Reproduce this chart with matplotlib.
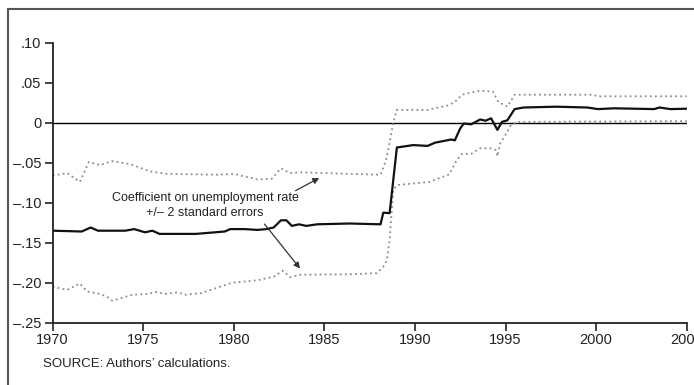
import numpy as np
import matplotlib.pyplot as plt
from matplotlib.lines import Line2D

plt.rcParams['font.family'] = ['Liberation Sans', 'DejaVu Sans']

# coefficient on unemployment rate
coef_yr = [1970.0, 1971.6, 1972.1, 1972.5, 1974.0, 1974.5, 1975.1, 1975.5, 1975.9, 1977.9,
           1979.5, 1979.8, 1980.6, 1981.3, 1981.8, 1982.2, 1982.6, 1982.9, 1983.2, 1983.6,
           1984.0, 1984.6, 1986.4, 1988.1, 1988.25, 1988.6, 1989.0, 1989.9, 1990.7, 1991.1,
           1992.0, 1992.2, 1992.5, 1992.7, 1993.1, 1993.6, 1993.9, 1994.2, 1994.55, 1994.8,
           1995.1, 1995.5, 1996.0, 1997.8, 1999.5, 2000.1, 2001.0, 2003.2, 2003.5, 2004.1, 2005.0]
coef = [-0.135, -0.136, -0.131, -0.135, -0.135, -0.133, -0.137, -0.135, -0.139, -0.139,
        -0.136, -0.133, -0.133, -0.134, -0.133, -0.131, -0.122, -0.122, -0.129, -0.127,
        -0.129, -0.127, -0.126, -0.127, -0.1125, -0.113, -0.031, -0.028, -0.029, -0.025,
        -0.021, -0.022, -0.007, -0.001, -0.002, 0.004, 0.0025, 0.0055, -0.009, 0.001,
        0.003, 0.017, 0.019, 0.020, 0.019, 0.017, 0.018, 0.017, 0.019, 0.017, 0.0175]

# +2 standard errors
upper_yr = [1970.0, 1970.8, 1971.5, 1972.0, 1972.6, 1973.3, 1974.3, 1975.4, 1976.3, 1979.1,
            1980.0, 1981.3, 1982.1, 1982.6, 1983.1, 1983.7, 1986.4, 1988.1, 1988.4, 1988.6,
            1988.8, 1989.0, 1990.7, 1991.9, 1992.3, 1992.6, 1993.6, 1994.3, 1994.6, 1995.1,
            1995.5, 1999.8, 2000.1, 2005.0]
upper = [-0.066, -0.063, -0.074, -0.049, -0.053, -0.048, -0.052, -0.061, -0.064, -0.065,
         -0.064, -0.071, -0.070, -0.057, -0.063, -0.062, -0.064, -0.065, -0.047, -0.025,
         0.0, 0.016, 0.016, 0.022, 0.028, 0.035, 0.040, 0.039, 0.026, 0.020,
         0.035, 0.035, 0.033, 0.033]

# -2 standard errors
lower_yr = [1970.0, 1970.8, 1971.5, 1971.9, 1972.6, 1973.0, 1973.3, 1974.4, 1975.3, 1975.65,
            1976.2, 1976.9, 1977.3, 1978.2, 1979.9, 1981.3, 1982.2, 1982.7, 1983.1, 1983.7,
            1986.4, 1987.9, 1988.25, 1988.45, 1988.6, 1988.8, 1989.0, 1990.8, 1991.9, 1992.3,
            1992.6, 1993.1, 1993.6, 1994.2, 1994.45, 1994.55, 1994.7, 1995.0, 1995.3, 1995.6,
            2005.0]
lower = [-0.205, -0.209, -0.201, -0.211, -0.214, -0.2175, -0.2225, -0.215, -0.214, -0.2115,
         -0.214, -0.212, -0.215, -0.213, -0.200, -0.197, -0.1925, -0.185, -0.193, -0.190,
         -0.1895, -0.188, -0.180, -0.172, -0.147, -0.084, -0.078, -0.074, -0.0645, -0.047,
         -0.039, -0.039, -0.032, -0.032, -0.034, -0.042, -0.026, -0.015, -0.003, 0.001,
         0.002]

yticks = [0.10, 0.05, 0, -0.05, -0.10, -0.15, -0.20, -0.25]
ytick_labels = ['.10', '.05', '0', '–.05', '–.10', '–.15', '–.20', '–.25']
xticks = [1970, 1975, 1980, 1985, 1990, 1995, 2000, 2005]

fig = plt.figure(figsize=(6.94, 3.85), dpi=100)
ax = fig.add_axes([0.0759, 0.1618, 0.9136, 0.7273])

ax.axhline(0, color='black', lw=1.0, zorder=1)
dots = (0, (1, 1.8))
ax.plot(upper_yr, upper, color='#8c8c8c', lw=1.3, ls=dots, zorder=2)
ax.plot(lower_yr, lower, color='#8c8c8c', lw=1.3, ls=dots, zorder=2)
ax.plot(coef_yr, coef, color='#111111', lw=1.6, zorder=3)

ax.set_xlim(1970, 2005)
ax.set_ylim(-0.25, 0.10)
ax.set_xticks(xticks)
ax.set_yticks(yticks)
ax.set_yticklabels(ytick_labels)
ax.tick_params(axis='both', direction='out', length=5.8, width=1.2, labelsize=10.5,
               colors='#222222')
ax.tick_params(axis='x', pad=1.5)
ax.tick_params(axis='y', pad=2.5)
for s in ['top', 'right']:
    ax.spines[s].set_visible(False)
for s in ['left', 'bottom']:
    ax.spines[s].set_linewidth(1.3)
    ax.spines[s].set_color('#222222')

# label and arrows
ax.text(1978.42, -0.1035, 'Coefficient on unemployment rate\n+/– 2 standard errors',
        ha='center', va='center', fontsize=9, linespacing=1.3, color='#222222')
arrow = dict(arrowstyle='-|>', color='#333333', lw=0.9, mutation_scale=9)
ax.annotate('', xy=(1984.85, -0.0675), xytext=(1983.27, -0.0866), arrowprops=arrow)
ax.annotate('', xy=(1983.75, -0.185), xytext=(1981.6, -0.124), arrowprops=arrow)

fig.text(43 / 694, 1 - 364 / 385, 'SOURCE: Authors’ calculations.', ha='left', va='center',
         fontsize=9.5, color='#222222')

# frame lines along left and top
fig.add_artist(Line2D([8 / 694, 8 / 694], [0, 1 - 9 / 385], color='#555555', lw=1.5))
fig.add_artist(Line2D([8 / 694, 1], [1 - 9 / 385, 1 - 9 / 385], color='#555555', lw=1.5))

fig.savefig('out.png', dpi=100)
